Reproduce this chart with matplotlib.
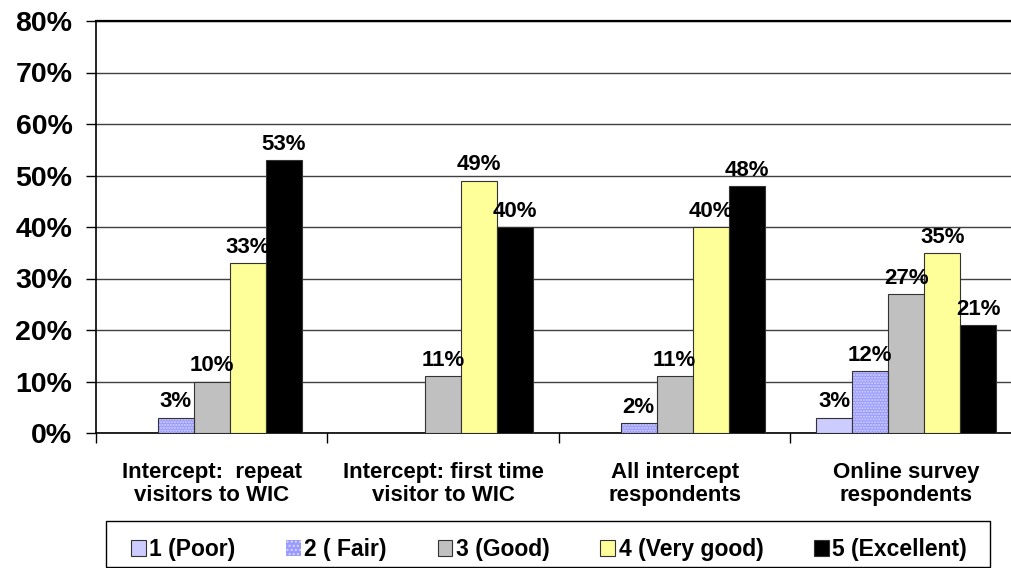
import matplotlib
matplotlib.use('Agg')
import matplotlib.pyplot as plt
from matplotlib.patches import Rectangle
import numpy as np

plt.rcParams['font.family'] = ['Liberation Sans', 'DejaVu Sans']
plt.rcParams['font.weight'] = 'bold'

categories = ['Intercept:  repeat\nvisitors to WIC',
              'Intercept: first time\nvisitor to WIC',
              'All intercept\nrespondents',
              'Online survey\nrespondents']
ratings = ['1 (Poor)', '2 ( Fair)', '3 (Good)', '4 (Very good)', '5 (Excellent)']
poor = [0, 0, 0, 3]
fair = [3, 0, 2, 12]
good = [10, 11, 11, 27]
very_good = [33, 49, 40, 35]
excellent = [53, 40, 48, 21]
series = [poor, fair, good, very_good, excellent]
colors = ['#CCCCFF', '#9999FF', '#C0C0C0', '#FFFF99', '#000000']

W, H = 1012, 568
fig = plt.figure(figsize=(W / 100, H / 100), dpi=100)
ax = fig.add_axes([96 / W, 135 / H, 926 / W, 412 / H])

x = np.arange(len(categories))
w = 0.1555
handles = []
for i, (vals, col) in enumerate(zip(series, colors)):
    pos = x + (i - 2) * w
    v = np.array(vals, dtype=float)
    if i == 1:
        # dotted fill for "Fair", outline drawn separately
        ax.bar(pos, v, w, color=col, hatch='......', edgecolor='#D8D8FF',
               linewidth=0, zorder=3)
        ax.bar(pos, v, w, fill=False, edgecolor='#333333', linewidth=0.8,
               zorder=4)
        h = Rectangle((0, 0), 1, 1, facecolor=col, hatch='....',
                      edgecolor='#D8D8FF', linewidth=0)
    else:
        ax.bar(pos, v, w, color=col, edgecolor='#333333', linewidth=0.8,
               zorder=3)
        h = Rectangle((0, 0), 1, 1, facecolor=col, edgecolor='#333333',
                      linewidth=0.8)
    handles.append(h)
    for px, pv in zip(pos, vals):
        if pv > 0:
            ax.text(px, pv + 1.0, '%d%%' % pv, ha='center', va='bottom',
                    fontsize=16, fontweight='bold', zorder=5)

ax.set_xlim(-0.5, 3.5)
ax.set_ylim(0, 80)
ax.set_yticks(np.arange(0, 81, 10))
ax.set_yticklabels(['%d%%' % t for t in range(0, 81, 10)],
                   fontsize=20.5, fontweight='bold')
ax.yaxis.grid(True, color='#404040', linewidth=1.0, zorder=0)
ax.set_axisbelow(True)

ax.set_xticks(x)
ax.set_xticklabels([])
ax.set_xticks(np.arange(-0.5, 3.0, 1.0), minor=True)
ax.tick_params(axis='x', which='major', length=0)
ax.tick_params(axis='x', which='minor', direction='out', length=7,
               width=1, color='black')
ax.tick_params(axis='y', direction='out', length=7, width=1, pad=10)

for s in ['left', 'bottom']:
    ax.spines[s].set_color('black')
    ax.spines[s].set_linewidth(1.2)
ax.spines['top'].set_linewidth(1.6)
ax.spines['right'].set_visible(False)

for xi, cat in zip(x, categories):
    ax.text(xi, -5.6, cat, ha='center', va='top', fontsize=16,
            fontweight='bold', linespacing=1.15)

# legend box drawn by hand, entries spread across it
fig.patches.append(Rectangle((106 / W, 1 / H), 884 / W, 46 / H,
                             transform=fig.transFigure, fill=False,
                             edgecolor='black', linewidth=1.0))
leg = fig.legend(handles, ratings, loc='center',
                 bbox_to_anchor=(131 / W, 1 / H, 836 / W, 35 / H),
                 mode='expand', ncol=5, frameon=False,
                 handlelength=0.65, handleheight=0.65, handletextpad=0.15,
                 borderaxespad=0, borderpad=0,
                 prop={'weight': 'bold', 'size': 16.5})

fig.savefig('out.png', dpi=100)
